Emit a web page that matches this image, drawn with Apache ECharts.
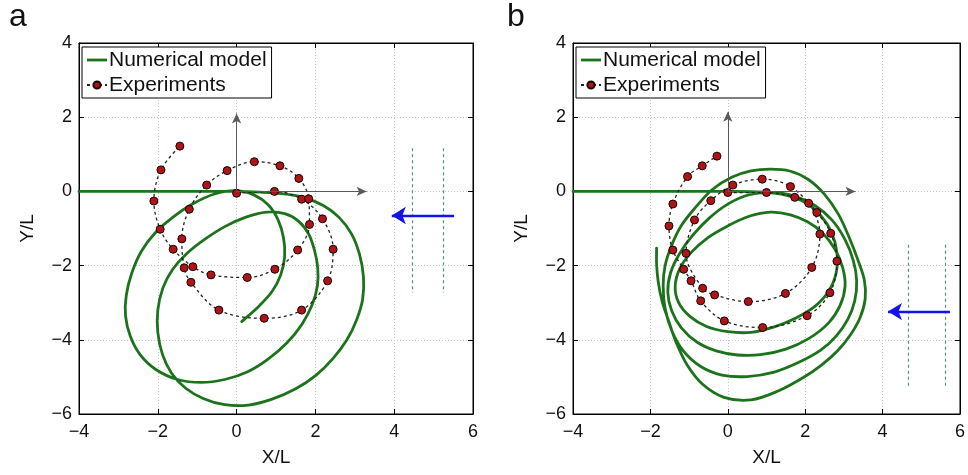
<!DOCTYPE html>
<html>
<head>
<meta charset="utf-8">
<script src="https://cdn.jsdelivr.net/npm/echarts@6/dist/echarts.min.js"></script>
<style>html,body{margin:0;padding:0;background:#fff;}#chart{width:968px;height:475px;}</style>
</head>
<body>
<div id="chart"></div>
<script>
// ---- data ----
const xTicks = [-4, -2, 0, 2, 4, 6];
const yTicks = [-6, -4, -2, 0, 2, 4];
const panelLabels = ['a', 'b'];
const seriesNames = ['Numerical model', 'Experiments'];

// Panel a: numerical model trajectory
const modelA = [
  [-4,0],[-2,0],[0,0],[0.6,-0.02],[1.15,-0.06],[1.69,-0.16],[2.2,-0.38],[2.6,-0.7],[2.92,-1.15],[3.12,-1.7],
  [3.22,-2.3],[3.2,-2.9],[3.05,-3.45],[2.8,-4.0],[2.45,-4.5],[2.02,-4.95],[1.5,-5.32],[0.9,-5.6],[0.3,-5.76],
  [-0.3,-5.75],[-0.85,-5.58],[-1.3,-5.3],[-1.65,-4.9],[-1.88,-4.4],[-2.0,-3.8],[-2.0,-3.2],[-1.87,-2.6],
  [-1.62,-2.1],[-1.27,-1.68],[-0.82,-1.3],[-0.3,-0.95],[0.22,-0.7],[0.76,-0.56],
  [1.22,-0.6],[1.57,-0.8],[1.83,-1.15],[1.98,-1.6],[2.06,-2.07],[2.05,-2.55],[1.92,-3.05],[1.66,-3.58],
  [1.28,-4.08],[0.8,-4.52],[0.28,-4.86],[-0.3,-5.07],[-0.9,-5.15],[-1.5,-5.07],[-2.05,-4.8],[-2.45,-4.4],
  [-2.7,-3.9],[-2.82,-3.35],[-2.8,-2.8],[-2.66,-2.2],[-2.42,-1.62],[-2.07,-1.12],[-1.62,-0.7],[-1.12,-0.34],
  [-0.56,-0.07],[0,0.02],
  [0.45,-0.1],[0.8,-0.36],[1.05,-0.76],[1.19,-1.25],[1.22,-1.75],[1.12,-2.25],[0.9,-2.7],[0.56,-3.1],[0.13,-3.51]
];
// Panel a: experiments
const expA = [
  [0,-0.05],[0.96,0],[1.65,-0.21],[2.18,-0.74],[2.45,-1.56],[2.31,-2.41],[1.65,-3.2],[0.7,-3.42],[-0.45,-3.2],
  [-1.16,-2.45],[-1.33,-2.06],[-1.39,-1.28],[-1.2,-0.48],[-0.76,0.17],[-0.24,0.56],[0.45,0.8],[1.1,0.69],[1.58,0.35],
  [1.83,-0.2],[1.85,-0.89],[1.55,-1.58],[0.97,-2.1],[0.27,-2.32],[-0.65,-2.25],[-1.11,-2.03],[-1.61,-1.56],
  [-1.94,-1.02],[-2.1,-0.26],[-1.92,0.58],[-1.44,1.22]
];
// Panel b: numerical model trajectory
const modelB = [
  [-4,0],[-2,0],[0,0],[0.9,-0.02],[1.5,-0.1],[2.0,-0.3],[2.4,-0.65],[2.68,-1.1],[2.82,-1.65],[2.8,-2.2],
  [2.6,-2.7],[2.25,-3.1],[1.75,-3.42],[1.2,-3.65],[0.6,-3.8],[0.0,-3.78],[-0.55,-3.64],[-0.98,-3.37],[-1.27,-3.0],
  [-1.36,-2.57],[-1.25,-2.1],[-0.95,-1.65],[-0.52,-1.25],[0.0,-0.93],[0.55,-0.67],[1.1,-0.56],
  [1.62,-0.63],[2.06,-0.82],[2.45,-1.12],[2.77,-1.56],[2.97,-2.06],[3.03,-2.56],[2.9,-3.08],[2.6,-3.55],
  [2.1,-3.96],[1.5,-4.25],[0.85,-4.4],[0.25,-4.41],[-0.3,-4.3],[-0.8,-4.06],[-1.2,-3.68],[-1.45,-3.22],
  [-1.55,-2.72],[-1.48,-2.2],[-1.26,-1.7],[-0.92,-1.2],[-0.48,-0.72],[0.02,-0.33],[0.55,-0.09],[1.1,-0.03],
  [1.7,-0.12],[2.25,-0.38],[2.7,-0.78],[3.02,-1.28],[3.24,-1.85],[3.33,-2.4],[3.28,-2.95],[3.1,-3.45],
  [2.8,-3.9],[2.4,-4.28],[1.85,-4.6],[1.2,-4.87],[0.5,-4.99],[-0.15,-4.95],[-0.7,-4.72],[-1.15,-4.3],
  [-1.45,-3.75],[-1.62,-3.15],[-1.67,-2.55],[-1.62,-2.0],[-1.45,-1.45],[-1.2,-0.92],[-0.85,-0.45],[-0.4,0.05],
  [0.1,0.38],[0.6,0.55],[1.1,0.6],
  [1.6,0.55],[2.08,0.32],[2.5,-0.08],[2.86,-0.62],[3.14,-1.25],[3.38,-1.9],[3.53,-2.4],[3.55,-2.9],[3.42,-3.4],
  [3.18,-3.85],[2.85,-4.28],[2.42,-4.68],[1.93,-5.03],[1.3,-5.38],[0.6,-5.62],[-0.1,-5.55],[-0.65,-5.2],
  [-1.05,-4.68],[-1.33,-4.08],[-1.54,-3.46],[-1.7,-2.95],[-1.8,-2.42],[-1.84,-1.96],[-1.84,-1.53]
];
// Panel b: experiments
const expB = [
  [0,-0.03],[1.0,-0.03],[1.73,-0.16],[2.09,-0.32],[2.38,-1.15],[2.17,-2.05],[1.49,-2.75],[0.53,-2.97],[-0.34,-2.79],
  [-0.65,-2.61],[-1.08,-1.67],[-0.86,-0.77],[-0.44,-0.25],[0.13,0.17],[0.89,0.33],[1.62,0.13],[2.3,-0.57],[2.66,-1.13],
  [2.82,-1.88],[2.64,-2.73],[2.05,-3.35],[0.9,-3.67],[-0.09,-3.49],[-0.7,-2.95],[-0.95,-2.41],[-1.14,-2.1],[-1.42,-1.58],
  [-1.52,-0.93],[-1.42,-0.34],[-1.04,0.4],[-0.66,0.69],[-0.28,0.95]
];
// Reference axes drawn inside each plot (from origin)
const frameArrowsA = [[[0,0],[0,2.1]],[[0,0],[3.3,0]]];
const frameArrowsB = [[[0,0],[0,2.15]],[[0,0],[3.3,0]]];
// Current arrows and dashed marker lines
const flowArrowA = [[[5.52,-0.65],[3.94,-0.65]]];
const flowArrowB = [[[5.74,-3.24],[4.14,-3.24]]];
const flowLinesA = [[[4.46,1.16],[4.46,-2.73]],[[5.25,1.16],[5.25,-2.73]]];
const flowLinesB = [[[4.65,-1.44],[4.65,-5.31]],[[5.62,-1.44],[5.62,-5.31]]];

// ---- chart ----
const FONT = 'Liberation Sans, Arial, sans-serif';
const GREEN = '#1c731c';
const chart = echarts.init(document.getElementById('chart'), null, {renderer: 'canvas'});
const fmt = v => String(v).replace('-', '\u2212');
const grids = [
  {left: 79, right: 495, top: 43, bottom: 61, show: true, borderColor: '#000', borderWidth: 1, backgroundColor: '#fff'},
  {left: 573, right: 1, top: 43, bottom: 61, show: true, borderColor: '#000', borderWidth: 1, backgroundColor: '#fff'}
];
const xMin = xTicks[0], xMax = xTicks[xTicks.length - 1], xInt = xTicks[1] - xTicks[0];
const yMin = yTicks[0], yMax = yTicks[yTicks.length - 1], yInt = yTicks[1] - yTicks[0];

// smooth path through points already mapped to pixels by the axes (chord-length tangents)
function smoothPathData(pts) {
  const n = pts.length, d = [];
  for (let i = 0; i < n - 1; i++) d.push(Math.hypot(pts[i+1][0]-pts[i][0], pts[i+1][1]-pts[i][1]) || 1e-6);
  const tan = pts.map((p, i) => {
    if (i === 0) return [(pts[1][0]-p[0])/d[0], (pts[1][1]-p[1])/d[0]];
    if (i === n - 1) return [(p[0]-pts[i-1][0])/d[i-1], (p[1]-pts[i-1][1])/d[i-1]];
    const s = d[i-1] + d[i];
    return [(pts[i+1][0]-pts[i-1][0])/s, (pts[i+1][1]-pts[i-1][1])/s];
  });
  let s = 'M' + pts[0][0].toFixed(2) + ' ' + pts[0][1].toFixed(2);
  for (let i = 0; i < n - 1; i++) {
    const k = d[i] / 3;
    const c1 = [pts[i][0] + tan[i][0]*k, pts[i][1] + tan[i][1]*k];
    const c2 = [pts[i+1][0] - tan[i+1][0]*k, pts[i+1][1] - tan[i+1][1]*k];
    s += ' C' + c1[0].toFixed(2) + ' ' + c1[1].toFixed(2) + ' ' + c2[0].toFixed(2) + ' ' + c2[1].toFixed(2) +
         ' ' + pts[i+1][0].toFixed(2) + ' ' + pts[i+1][1].toFixed(2);
  }
  return s;
}

const xAxes = [], yAxes = [], series = [], legends = [], titles = [];
const panels = [
  {model: modelA, exp: expA, arrows: frameArrowsA, flowArrow: flowArrowA, flowLines: flowLinesA},
  {model: modelB, exp: expB, arrows: frameArrowsB, flowArrow: flowArrowB, flowLines: flowLinesB}
];
const segData = segs => segs.map(s => [{coord: s[0]}, {coord: s[1]}]);

panels.forEach((p, i) => {
  const base = {type: 'value', gridIndex: i, min: xMin, max: xMax, interval: xInt};
  xAxes.push(Object.assign({}, base, {
    position: 'bottom', name: 'X/L', nameLocation: 'middle', nameGap: 34,
    nameTextStyle: {fontFamily: FONT, fontSize: 19, color: '#111'},
    axisLine: {show: true, onZero: false, lineStyle: {color: '#000', width: 1}},
    axisTick: {show: true, inside: true, length: 5, lineStyle: {color: '#000'}},
    axisLabel: {fontFamily: FONT, fontSize: 18, color: '#111', margin: 9, formatter: fmt, showMinLabel: true, showMaxLabel: true},
    splitLine: {show: true, lineStyle: {color: '#c4c4c4', type: [1, 2], width: 1}}
  }));
  xAxes.push(Object.assign({}, base, {
    position: 'top',
    axisLine: {show: true, onZero: false, lineStyle: {color: '#000', width: 1}},
    axisTick: {show: true, inside: true, length: 5, lineStyle: {color: '#000'}},
    axisLabel: {show: false}, splitLine: {show: false}
  }));
  const ybase = {type: 'value', gridIndex: i, min: yMin, max: yMax, interval: yInt};
  yAxes.push(Object.assign({}, ybase, {
    position: 'left', name: 'Y/L', nameLocation: 'middle', nameGap: 42, nameRotate: 90,
    nameTextStyle: {fontFamily: FONT, fontSize: 19, color: '#111'},
    axisLine: {show: true, onZero: false, lineStyle: {color: '#000', width: 1}},
    axisTick: {show: true, inside: true, length: 5, lineStyle: {color: '#000'}},
    axisLabel: {fontFamily: FONT, fontSize: 18, color: '#111', margin: 7, formatter: fmt, showMinLabel: true, showMaxLabel: true},
    splitLine: {show: true, lineStyle: {color: '#c4c4c4', type: [1, 2], width: 1}}
  }));
  yAxes.push(Object.assign({}, ybase, {
    position: 'right',
    axisLine: {show: true, onZero: false, lineStyle: {color: '#000', width: 1}},
    axisTick: {show: true, inside: true, length: 5, lineStyle: {color: '#000'}},
    axisLabel: {show: false}, splitLine: {show: false}
  }));
  const xi = i * 2, yi = i * 2;
  series.push({
    type: 'line', xAxisIndex: xi, yAxisIndex: yi, data: [], silent: true,
    markLine: {silent: true, symbol: ['none', 'none'], label: {show: false}, emphasis: {disabled: true},
      lineStyle: {color: '#4f9484', width: 1.2, type: [3, 3]}, data: segData(p.flowLines)}
  });
  series.push({
    type: 'line', xAxisIndex: xi, yAxisIndex: yi, data: [], silent: true,
    markLine: {silent: true, symbol: ['none', 'arrow'], symbolSize: [13, 14], label: {show: false}, emphasis: {disabled: true},
      lineStyle: {color: '#1414e6', width: 2.4, type: 'solid'}, data: segData(p.flowArrow)}
  });
  series.push({
    type: 'line', xAxisIndex: xi, yAxisIndex: yi, data: [], silent: true,
    markLine: {silent: true, symbol: ['none', 'arrow'], symbolSize: [7, 10], label: {show: false}, emphasis: {disabled: true},
      lineStyle: {color: '#5a5a5a', width: 1, type: 'solid'}, data: segData(p.arrows)}
  });
  const model = p.model;
  series.push({
    name: seriesNames[0], type: 'custom', coordinateSystem: 'cartesian2d', xAxisIndex: xi, yAxisIndex: yi,
    data: model, encode: {x: 0, y: 1}, z: 3, silent: true, itemStyle: {color: GREEN},
    renderItem: function (params, api) {
      if (params.dataIndex !== 0) return null;
      const pts = model.map(pt => api.coord(pt));
      return {type: 'path', shape: {pathData: smoothPathData(pts)},
        style: {fill: 'none', stroke: GREEN, lineWidth: 2.8, lineJoin: 'round', lineCap: 'round'}};
    }
  });
  series.push({
    name: seriesNames[1], type: 'line', xAxisIndex: xi, yAxisIndex: yi, data: p.exp,
    symbol: 'circle', symbolSize: 8, showSymbol: true, smooth: 0.35, z: 4,
    lineStyle: {color: '#222', width: 1.3, type: [3, 3]},
    itemStyle: {color: '#ad1519', borderColor: '#1a0000', borderWidth: 1}
  });
  legends.push({
    orient: 'vertical', left: grids[i].left + 3, top: 47,
    data: [{name: seriesNames[0], icon: 'path://M0,0 L20,0 L20,2.8 L0,2.8 Z', itemStyle: {color: GREEN}},
           {name: seriesNames[1]}],
    backgroundColor: '#fff', borderColor: '#000', borderWidth: 1, padding: [2, 5, 2, 4],
    itemGap: 3, itemWidth: 20, itemHeight: 9, selectedMode: false, symbolKeepAspect: true,
    textStyle: {fontFamily: FONT, fontSize: 21, color: '#111', padding: [0, 0, 0, -3], lineHeight: 22}
  });
  titles.push({
    text: panelLabels[i], left: i === 0 ? 4 : 502, top: -4,
    textStyle: {fontFamily: FONT, fontSize: 32, fontWeight: 'normal', color: '#111'}
  });
});

chart.setOption({
  animation: false,
  backgroundColor: '#fff',
  title: titles,
  grid: grids,
  legend: legends,
  xAxis: xAxes,
  yAxis: yAxes,
  series: series
});
</script>
</body>
</html>
